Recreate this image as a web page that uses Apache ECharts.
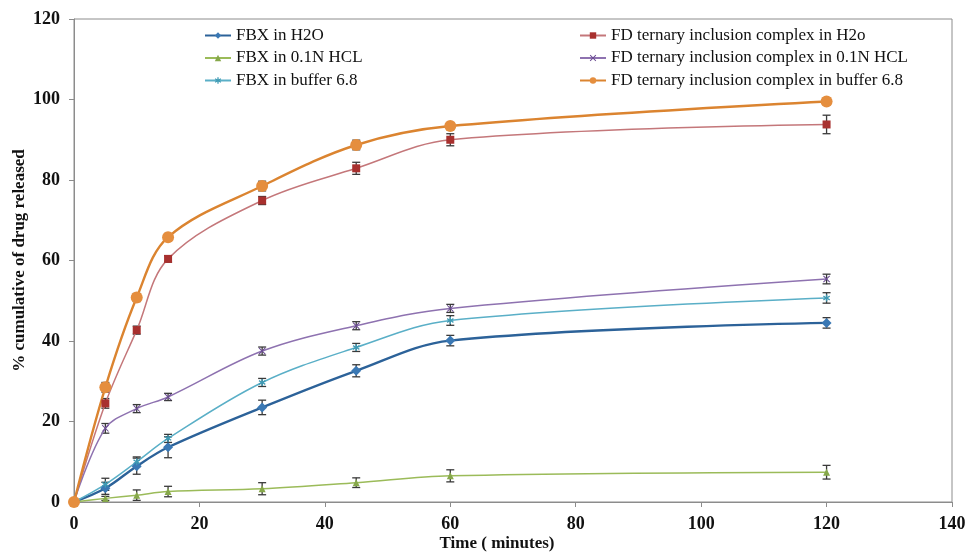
<!DOCTYPE html>
<html>
<head>
<meta charset="utf-8">
<script src="https://cdn.jsdelivr.net/npm/echarts@6/dist/echarts.min.js"></script>
<style>
  html, body { margin: 0; padding: 0; background: #fff; }
  #chart { width: 967px; height: 556px; }
</style>
</head>
<body>
<div id="chart"></div>
<script>
// Sampling times (minutes)
var times = [0, 5, 10, 15, 30, 45, 60, 120];

// Mean cumulative release (%) per medium
var fbxH2O      = [0, 3.4, 8.9, 13.6, 23.5, 32.6, 40.1, 44.5];
var fbxHCL      = [0, 0.9, 1.7, 2.6, 3.3, 4.8, 6.5, 7.4];
var fbxBuffer   = [0, 4.4, 10.0, 15.8, 29.7, 38.4, 45.1, 50.7];
var fdH2O       = [0, 24.5, 42.7, 60.4, 74.9, 82.9, 90.0, 93.8];
var fdHCL       = [0, 18.3, 23.2, 26.1, 37.5, 43.8, 48.1, 55.4];
var fdBuffer    = [0, 28.5, 50.8, 65.8, 78.5, 88.7, 93.4, 99.5];

// Standard deviations for the error bars
var sdFbxH2O    = [0, 1.5, 2.0, 2.6, 1.8, 1.5, 1.3, 1.3];
var sdFbxHCL    = [0, 0.5, 1.3, 1.3, 1.5, 1.2, 1.5, 1.7];
var sdFbxBuffer = [0, 1.5, 1.2, 1.0, 1.0, 1.0, 1.2, 1.3];
var sdFdH2O     = [0, 1.2, 1.0, 0.8, 1.0, 1.5, 1.5, 2.3];
var sdFdHCL     = [0, 1.2, 1.0, 0.9, 1.0, 1.0, 1.0, 1.2];
var sdFdBuffer  = [0, 1.2, 1.0, 0.9, 1.2, 1.2, 0.8, 0.8];

var xTicks = { min: 0, max: 140, interval: 20 };
var yTicks = { min: 0, max: 120, interval: 20 };

var serifFont = '"Liberation Serif", "Times New Roman", serif';

var crossPath = 'path://M0,1 L1,0 L5,4 L9,0 L10,1 L6,5 L10,9 L9,10 L5,6 L1,10 L0,9 L4,5 Z';
var starPath = 'path://M4,0 L6,0 L6,3.5 L9,1.5 L10,3.2 L7,5 L10,6.8 L9,8.5 L6,6.5 L6,10 L4,10 L4,6.5 L1,8.5 L0,6.8 L3,5 L0,3.2 L1,1.5 L4,3.5 Z';

var defs = [
  { name: 'FBX in H2O', values: fbxH2O, sd: sdFbxH2O, line: '#2C6299', mark: '#3A78B4', symbol: 'diamond', size: 10, width: 2.4, legend: 0 },
  { name: 'FBX in 0.1N HCL', values: fbxHCL, sd: sdFbxHCL, line: '#9BBB59', mark: '#86A84A', symbol: 'triangle', size: 7, width: 1.5, legend: 0 },
  { name: 'FBX in buffer 6.8', values: fbxBuffer, sd: sdFbxBuffer, line: '#5AAFC7', mark: '#3E9AB4', symbol: starPath, size: 7, width: 1.5, legend: 0 },
  { name: 'FD ternary inclusion complex in H2o', values: fdH2O, sd: sdFdH2O, line: '#C4777A', mark: '#A8302E', symbol: 'rect', size: 8, width: 1.5, legend: 1 },
  { name: 'FD ternary inclusion complex in 0.1N HCL', values: fdHCL, sd: sdFdHCL, line: '#8E72B0', mark: '#6A4A92', symbol: crossPath, size: 7, width: 1.5, legend: 1 },
  { name: 'FD ternary inclusion complex in buffer 6.8', values: fdBuffer, sd: sdFdBuffer, line: '#DB8430', mark: '#E58E3E', symbol: 'circle', size: 12, width: 2.4, legend: 1 }
];

function pairs(vals) {
  return times.map(function (t, i) { return [t, vals[i]]; });
}

function errorData(vals, sd) {
  return times.map(function (t, i) { return [t, vals[i] - sd[i], vals[i] + sd[i]]; });
}

function renderErrorBar(params, api) {
  var x = api.value(0);
  var lo = api.coord([x, api.value(1)]);
  var hi = api.coord([x, api.value(2)]);
  var cap = 4;
  var style = { stroke: '#3a3a3a', lineWidth: 1.3 };
  return {
    type: 'group',
    children: [
      { type: 'line', shape: { x1: lo[0], y1: lo[1], x2: hi[0], y2: hi[1] }, style: style },
      { type: 'line', shape: { x1: lo[0] - cap, y1: lo[1], x2: lo[0] + cap, y2: lo[1] }, style: style },
      { type: 'line', shape: { x1: hi[0] - cap, y1: hi[1], x2: hi[0] + cap, y2: hi[1] }, style: style }
    ]
  };
}

var series = [];
defs.forEach(function (d) {
  series.push({
    name: d.name + ' SD',
    type: 'custom',
    renderItem: renderErrorBar,
    data: errorData(d.values, d.sd),
    z: 3,
    silent: true
  });
});
defs.forEach(function (d) {
  series.push({
    name: d.name,
    type: 'line',
    data: pairs(d.values),
    smooth: 0.35,
    symbol: d.symbol,
    symbolSize: d.size,
    showAllSymbol: true,
    lineStyle: { color: d.line, width: d.width },
    itemStyle: { color: d.mark, borderWidth: 0 },
    z: 4
  });
});

var legendText = { fontFamily: serifFont, fontSize: 17, color: '#111', lineHeight: 17 };

var option = {
  animation: false,
  backgroundColor: '#ffffff',
  grid: {
    left: 74, right: 15, top: 19, bottom: 54,
    containLabel: false, outerBoundsMode: 'none',
    show: true, borderColor: '#8c8c8c', borderWidth: 1, backgroundColor: 'transparent'
  },
  legend: [
    {
      data: defs.filter(function (d) { return d.legend === 0; }).map(function (d) { return d.name; }),
      orient: 'vertical', left: 204, top: 27, itemGap: 5.5, itemWidth: 26, itemHeight: 8,
      textStyle: legendText, padding: 0
    },
    {
      data: defs.filter(function (d) { return d.legend === 1; }).map(function (d) { return d.name; }),
      orient: 'vertical', left: 579, top: 27, itemGap: 5.5, itemWidth: 26, itemHeight: 8,
      textStyle: legendText, padding: 0
    }
  ],
  xAxis: {
    type: 'value', min: xTicks.min, max: xTicks.max, interval: xTicks.interval,
    name: 'Time ( minutes)', nameLocation: 'middle', nameGap: 33, nameMoveOverlap: false,
    nameTextStyle: { fontFamily: serifFont, fontSize: 17, fontWeight: 'bold', color: '#111', padding: [0, 32, 0, 0] },
    axisLine: { lineStyle: { color: '#8c8c8c', width: 1 } },
    axisTick: { show: true, length: 5, lineStyle: { color: '#8c8c8c' } },
    axisLabel: { fontFamily: serifFont, fontSize: 18, fontWeight: 'bold', color: '#111', margin: 13 },
    splitLine: { show: false }
  },
  yAxis: {
    type: 'value', min: yTicks.min, max: yTicks.max, interval: yTicks.interval,
    name: '% cumulative of drug released', nameLocation: 'middle', nameGap: 46, nameMoveOverlap: false,
    nameTextStyle: { fontFamily: serifFont, fontSize: 17, fontWeight: 'bold', color: '#111' },
    axisLine: { show: true, lineStyle: { color: '#8c8c8c', width: 1 } },
    axisTick: { show: true, length: 5, lineStyle: { color: '#8c8c8c' } },
    axisLabel: { fontFamily: serifFont, fontSize: 18, fontWeight: 'bold', color: '#111', margin: 14 },
    splitLine: { show: false }
  },
  series: series
};

var chart = echarts.init(document.getElementById('chart'), null, { renderer: 'canvas' });
chart.setOption(option);
</script>
</body>
</html>
